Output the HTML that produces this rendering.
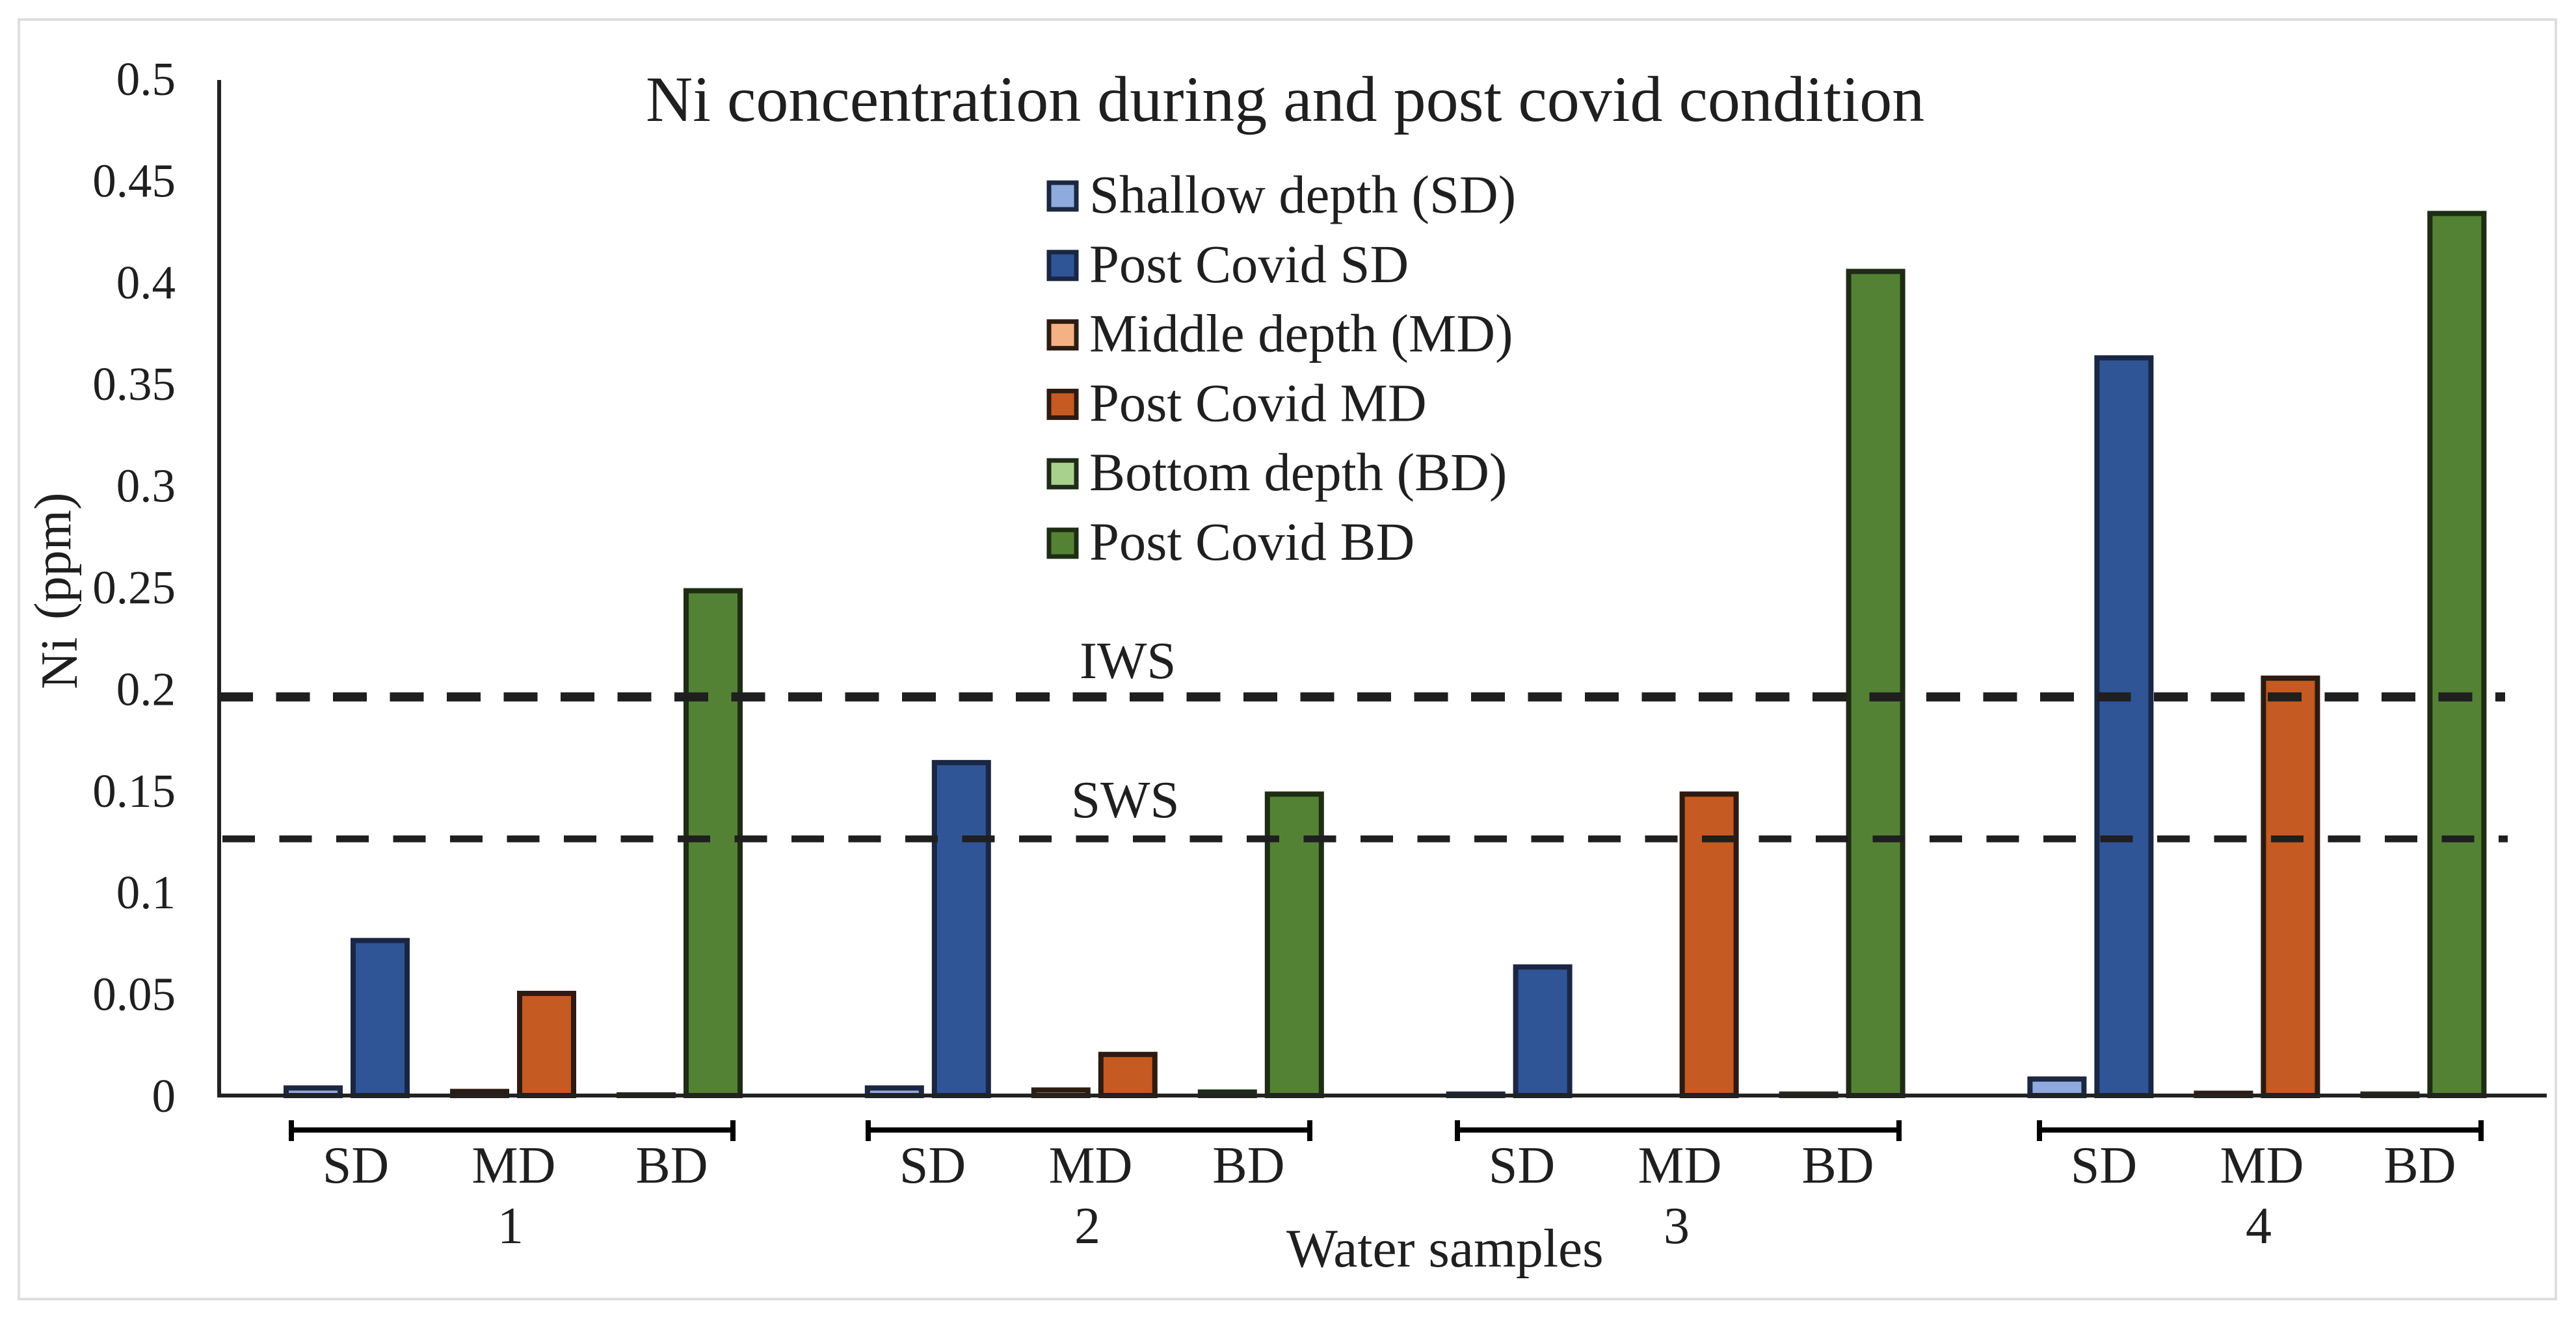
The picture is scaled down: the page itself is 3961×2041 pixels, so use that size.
<!DOCTYPE html>
<html lang="en">
<head>
<meta charset="utf-8">
<title>Ni concentration during and post covid condition</title>
<style>
  html, body { margin: 0; padding: 0; background: #ffffff; }
  body { width: 3961px; height: 2041px; overflow: hidden; }
  svg { display: block; }
  text { font-family: "Liberation Serif", "Times New Roman", serif; fill: #1f1f1f; }
</style>
</head>
<body>
<svg id="chart" xmlns="http://www.w3.org/2000/svg" width="3961" height="2041" viewBox="0 0 3961 2041">
  <rect x="29" y="30" width="3901" height="1968" fill="#ffffff" stroke="#dedede" stroke-width="4"/>
  <text x="993" y="186" font-size="100">Ni concentration during and post covid condition</text>
  <g id="bars"></g>
  <g id="ref-lines"></g>
  <line x1="337" y1="123" x2="337" y2="1688" stroke="#222222" stroke-width="6"/>
  <line x1="334" y1="1685" x2="3916" y2="1685" stroke="#222222" stroke-width="6"/>
  <g id="y-ticks" font-size="73"></g>
  <text transform="rotate(-90)" font-size="80"><tspan x="-1060" y="118">Ni </tspan><tspan x="-953" y="108">(ppm)</tspan></text>
  <g id="x-cats" font-size="80"></g>
  <text x="1978" y="1948" font-size="83.6">Water samples</text>
  <g id="legend" font-size="82.6"></g>
</svg>
<script>
// ---- data ----
const groupLabels = ['1', '2', '3', '4'];
const depthLabels = ['SD', 'MD', 'BD'];
const yTickLabels = ['0', '0.05', '0.1', '0.15', '0.2', '0.25', '0.3', '0.35', '0.4', '0.45', '0.5'];
const shallowDepth = [0.005, 0.005, 0.002, 0.0094];
const postCovidSD = [0.0775, 0.165, 0.0645, 0.364];
const middleDepth = [0.0033, 0.004, 0, 0.0024];
const postCovidMD = [0.0515, 0.0215, 0.1495, 0.2065];
const bottomDepth = [0.0016, 0.003, 0.002, 0.002];
const postCovidBD = [0.2495, 0.1495, 0.4065, 0.435];
const iwsLimit = [0.196];
const swsLimit = [0.1262];

// ---- styling per series ----
const SERIES = [
  { key: 'shallow-depth', label: 'Shallow depth (SD)', values: shallowDepth, depth: 0, post: 0, fill: '#8faadc', stroke: '#1c2740' },
  { key: 'post-covid-sd', label: 'Post Covid SD', values: postCovidSD, depth: 0, post: 1, fill: '#2f5597', stroke: '#1a2644' },
  { key: 'middle-depth', label: 'Middle depth (MD)', values: middleDepth, depth: 1, post: 0, fill: '#f4b183', stroke: '#2c1d14' },
  { key: 'post-covid-md', label: 'Post Covid MD', values: postCovidMD, depth: 1, post: 1, fill: '#c55a22', stroke: '#2e1a10' },
  { key: 'bottom-depth', label: 'Bottom depth (BD)', values: bottomDepth, depth: 2, post: 0, fill: '#a9d18e', stroke: '#1f2b18' },
  { key: 'post-covid-bd', label: 'Post Covid BD', values: postCovidBD, depth: 2, post: 1, fill: '#548235', stroke: '#1e2c14' }
];

// ---- axis functions ----
const Y_BASE = 1685, Y_PX_PER_UNIT = 3128;
function yScale(v) { return Y_BASE - v * Y_PX_PER_UNIT; }
function barLeft(group, depth, post) { return 436 + 893.8 * group + 256 * depth + 103 * post; }
function groupCentre(group) { return 790 + 895 * group + (group === 1 ? -8 : group === 0 ? 0 : 3); }

const NS = 'http://www.w3.org/2000/svg';
function make(tag, attrs, parent, text) {
  const el = document.createElementNS(NS, tag);
  for (const k in attrs) el.setAttribute(k, attrs[k]);
  if (text !== undefined) el.textContent = text;
  parent.appendChild(el);
  return el;
}

// bars
const barsG = document.getElementById('bars');
const BAR_W = 91, BAR_STROKE = 8;
SERIES.forEach(function (s) {
  s.values.forEach(function (v, g) {
    const top = yScale(v);
    const rect = make('rect', {
      x: barLeft(g, s.depth, s.post) + BAR_STROKE / 2,
      y: Math.min(top + BAR_STROKE / 2, Y_BASE),
      width: BAR_W - BAR_STROKE,
      height: Math.max(Y_BASE - top - BAR_STROKE / 2, 0),
      fill: s.fill,
      stroke: s.stroke,
      'stroke-width': BAR_STROKE
    }, barsG);
    
    
  });
});

// reference lines
const refG = document.getElementById('ref-lines');
const iwsLine = make('line', { x1: 337, x2: 3852, y1: yScale(iwsLimit[0]), y2: yScale(iwsLimit[0]), stroke: '#1f1f1f', 'stroke-width': 14, 'stroke-dasharray': '52 35.5' }, refG);


const swsLine = make('line', { x1: 342, x2: 3856, y1: yScale(swsLimit[0]), y2: yScale(swsLimit[0]), stroke: '#1f1f1f', 'stroke-width': 10.5, 'stroke-dasharray': '50 37.5' }, refG);


const iwsLabel = make('text', { x: 1660, y: yScale(iwsLimit[0]) - 29, 'font-size': 81 }, refG, 'IWS');


const swsLabel = make('text', { x: 1647, y: yScale(swsLimit[0]) - 33, 'font-size': 81 }, refG, 'SWS');



// y ticks
const yG = document.getElementById('y-ticks');
yTickLabels.forEach(function (t) {
  const label = make('text', { x: 270, y: yScale(parseFloat(t)) + 25, 'text-anchor': 'end' }, yG, t);
  
  
});

// x categories
const xG = document.getElementById('x-cats');
groupLabels.forEach(function (name, g) {
  const c = groupCentre(g);
  const bar = make('path', { d: 'M' + (c - 342) + ' 1738H' + (c + 337) + 'M' + (c - 342) + ' 1723V1755M' + (c + 337) + ' 1723V1755', stroke: '#000000', 'stroke-width': 8, fill: 'none' }, xG);
  
  
  depthLabels.forEach(function (d, i) {
    const t = make('text', { x: c + (i - 1) * 243, y: 1819, 'text-anchor': 'middle' }, xG, d);
    
    
  });
  const n = make('text', { x: c - 5, y: 1912, 'text-anchor': 'middle' }, xG, name);
  
  
});

// legend
const legG = document.getElementById('legend');
SERIES.forEach(function (s, i) {
  const rowY = 278 + i * 106.8;
  const swatch = make('rect', { x: 1613, y: rowY + 3, width: 42, height: 41, fill: s.fill, stroke: s.stroke, 'stroke-width': 7 }, legG);
  
  
  const t = make('text', { x: 1675, y: rowY + 49 }, legG, s.label);
  
  
});
</script>
</body>
</html>
